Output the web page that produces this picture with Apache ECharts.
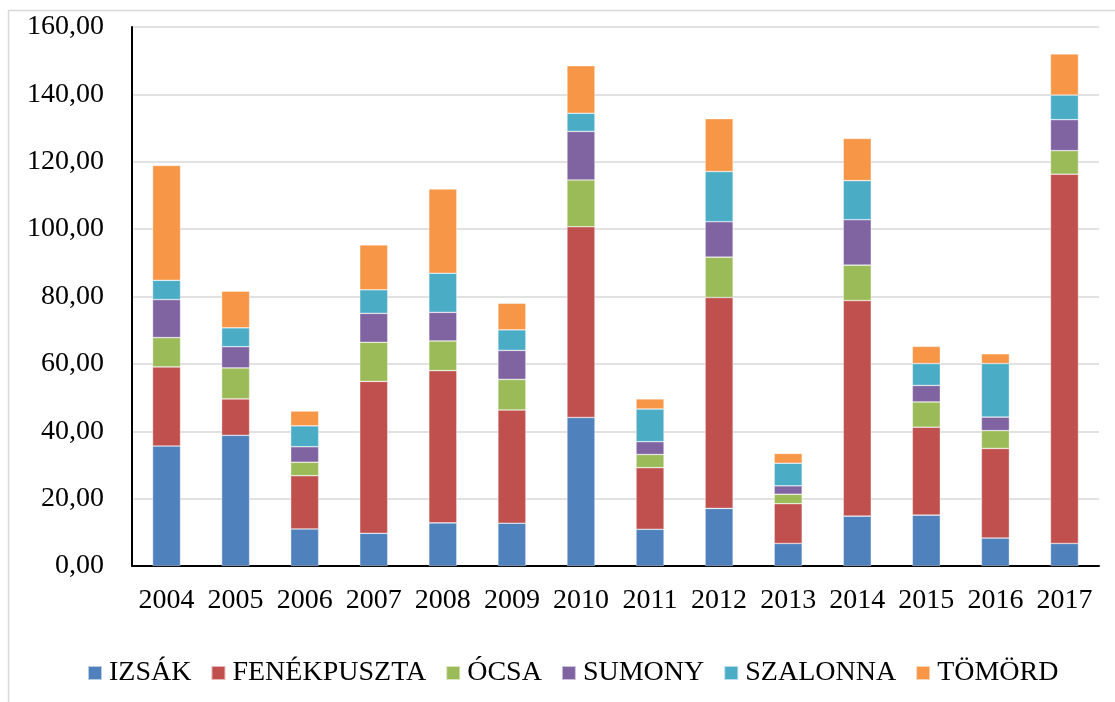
<!DOCTYPE html>
<html>
<head>
<meta charset="utf-8">
<script src="https://cdn.jsdelivr.net/npm/echarts@6/dist/echarts.min.js"></script>
<style>
  html, body { margin: 0; padding: 0; background: #fff; }
  #chart { width: 1115px; height: 702px; }
</style>
</head>
<body>
<div id="chart"></div>
<script>
// évek (x tengely)
const years = ['2004', '2005', '2006', '2007', '2008', '2009', '2010', '2011', '2012', '2013', '2014', '2015', '2016', '2017'];

// értékek helyszínenként
const izsak = [35.6, 38.8, 11.0, 9.7, 12.8, 12.7, 44.1, 10.9, 17.1, 6.7, 14.8, 15.1, 8.3, 6.7];
const fenekpuszta = [23.5, 10.8, 15.8, 45.1, 45.2, 33.6, 56.6, 18.3, 62.6, 11.8, 64.0, 26.1, 26.6, 109.6];
const ocsa = [8.7, 9.2, 4.0, 11.6, 8.8, 9.1, 13.9, 3.9, 12.0, 2.8, 10.5, 7.5, 5.3, 7.0];
const sumony = [11.3, 6.3, 4.6, 8.6, 8.5, 8.6, 14.4, 3.8, 10.5, 2.5, 13.5, 4.9, 4.0, 9.2];
const szalonna = [5.7, 5.6, 6.2, 7.0, 11.6, 6.1, 5.4, 9.7, 14.9, 6.7, 11.6, 6.5, 15.9, 7.3];
const tomord = [34.1, 10.9, 4.4, 13.3, 25.0, 7.9, 14.1, 3.0, 15.7, 2.9, 12.5, 5.1, 2.9, 12.2];

const names = ['IZSÁK', 'FENÉKPUSZTA', 'ÓCSA', 'SUMONY', 'SZALONNA', 'TÖMÖRD'];
const colors = ['#4F81BD', '#C0504D', '#9BBB59', '#8064A2', '#4BACC6', '#F79646'];
const values = [izsak, fenekpuszta, ocsa, sumony, szalonna, tomord];

const font = "'Liberation Serif', 'Times New Roman', serif";

const myChart = echarts.init(document.getElementById('chart'));

const series = names.map((name, i) => ({
  name: name,
  type: 'bar',
  stack: 'total',
  barWidth: 28,
  data: values[i],
  itemStyle: {
    color: colors[i],
    borderColor: 'rgba(255,255,255,0.6)',
    borderWidth: 0.6
  }
}));

const option = {
  animation: false,
  backgroundColor: '#fff',
  color: colors,
  graphic: [
    {
      type: 'rect',
      shape: { x: 8.5, y: 10.5, width: 1130, height: 720 },
      style: { fill: 'none', stroke: '#d9d9d9', lineWidth: 1.5 },
      silent: true,
      z: -1
    }
  ],
  grid: {
    left: 132,
    right: 16,
    top: 27,
    bottom: 136
  },
  legend: {
    left: 82,
    top: 654,
    itemWidth: 14,
    itemHeight: 14,
    itemGap: 19,
    icon: 'rect',
    textStyle: {
      fontFamily: font,
      fontSize: 28,
      color: '#000',
      padding: [0, 0, 0, 2]
    },
    data: names
  },
  xAxis: {
    type: 'category',
    data: years,
    axisLine: { lineStyle: { color: '#000', width: 2 } },
    axisTick: { show: false },
    axisLabel: {
      interval: 0,
      hideOverlap: false,
      fontFamily: font,
      fontSize: 28,
      color: '#000',
      margin: 21
    }
  },
  yAxis: {
    type: 'value',
    min: 0,
    max: 160,
    interval: 20,
    axisLine: { show: true, lineStyle: { color: '#000', width: 2 } },
    axisTick: { show: false },
    splitLine: { lineStyle: { color: '#d9d9d9', width: 1.5 } },
    axisLabel: {
      fontFamily: font,
      fontSize: 28,
      color: '#000',
      margin: 28,
      formatter: (v) => v.toFixed(2).replace('.', ',')
    }
  },
  series: series
};

myChart.setOption(option);
</script>
</body>
</html>
